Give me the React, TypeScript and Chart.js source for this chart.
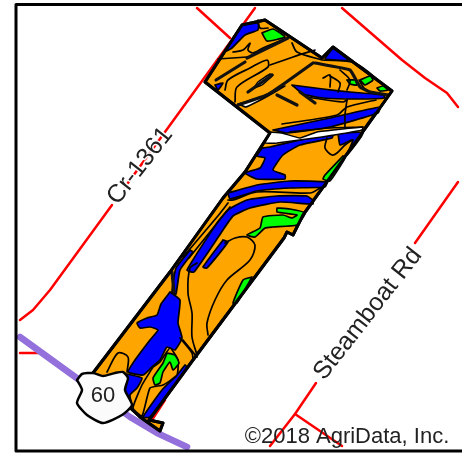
import React, { useEffect, useRef } from "react";
import { Chart, registerables } from "chart.js";

Chart.register(...registerables);

type Pt = [number, number];

const frame: Pt[] = [[470, 4.5], [16, 4.5], [16, 451], [470, 451]];

const roadsRed: Pt[][] = [
  [[255, 8], [125, 187]],
  [[112, 205], [50, 290], [33, 310], [20, 320]],
  [[197, 8], [230, 38]],
  [[342, 8], [402, 60], [425, 78], [447, 93], [458, 107]],
  [[458, 182], [415, 243]],
  [[316, 383], [295, 414], [270, 446]],
  [[295, 414], [342, 446]],
  [[20, 353], [38, 353]],
  [[165, 400], [150, 423]],
];
const highway: Pt[] = [[20, 337], [78, 379], [130, 417], [157, 433], [187, 447]];

const fieldOutline: Pt[] = [
  [265, 20], [322, 58], [333, 47], [392, 91], [362, 133], [303, 215], [293, 235], [287, 232], [284, 238],
  [193, 360], [149, 420], [163, 423], [160, 431], [140, 417], [93, 373], [170, 272], [223, 198], [245, 172],
  [270, 133], [205, 82], [242, 25], [265, 20],
];

const whitePatches: Pt[][] = [
  [[271, 132], [282, 133], [300, 138], [317, 132], [363, 127], [362, 130], [322, 137], [277, 143], [265, 143], [271, 132]],
  [[238, 104], [246, 107], [268, 96], [285, 86], [278, 88], [262, 97], [238, 104]],
  [[254, 88], [262, 85], [273, 75], [270, 74], [258, 82], [254, 88]],
  [[359, 80], [365, 90], [372, 93], [364, 88], [359, 80]],
];

const bluePatches: Pt[][] = [
  [[242, 25], [258, 23], [258, 30], [245, 35], [232, 48], [226, 51], [242, 25]],
  [[215, 85], [223, 83], [218, 90], [215, 85]],
  [[333, 48], [348, 60], [325, 59], [333, 48]],
  [[292, 85], [323, 89], [350, 92], [383, 95], [385, 98], [357, 99], [323, 98], [303, 94], [292, 85]],
  [[273, 130], [330, 118], [380, 107], [378, 113], [330, 127], [287, 133], [273, 130]],
  [[262, 148], [270, 147], [300, 140], [333, 134], [332, 138], [300, 145], [283, 155], [273, 170], [285, 175], [285, 179], [257, 179], [245, 173], [260, 168], [265, 158], [257, 156], [262, 148]],
  [[338, 133], [363, 133], [347, 155], [353, 140], [347, 142], [340, 145], [338, 133]],
  [[228, 193], [257, 185], [290, 181], [327, 182], [325, 187], [290, 188], [257, 191], [230, 199], [228, 193]],
  [[313, 200], [307, 196], [277, 196], [247, 200], [228, 210], [217, 223], [187, 270], [194, 272], [221, 233], [233, 216], [250, 208], [280, 202], [313, 204], [313, 200]],
  [[223, 240], [228, 242], [207, 268], [203, 267], [223, 240]],
  [[190, 250], [176, 268], [172, 292], [176, 294], [180, 270], [193, 252], [190, 250]],
  [[170, 292], [180, 300], [178, 323], [182, 338], [175, 350], [167, 347], [160, 360], [152, 367], [143, 375], [128, 372], [135, 360], [150, 340], [158, 330], [150, 327], [140, 328], [137, 323], [147, 318], [157, 315], [161, 304], [170, 292]],
  [[127, 374], [142, 378], [137, 388], [130, 395], [132, 407], [125, 395], [127, 374]],
  [[185, 365], [177, 375], [162, 390], [143, 417], [150, 417], [187, 367], [185, 365]],
];

const orangeOverBlue: Pt[][] = [
  [[153, 367], [160, 362], [170, 348], [178, 360], [177, 375], [163, 385], [150, 388], [142, 416], [133, 408], [142, 385], [153, 367]],
];

const greenPatches: Pt[][] = [
  [[262, 33], [273, 29], [285, 37], [267, 41], [262, 33]],
  [[347, 80], [355, 80], [357, 85], [350, 84], [347, 80]],
  [[360, 80], [370, 76], [373, 80], [365, 85], [360, 80]],
  [[377, 88], [383, 86], [388, 90], [380, 91], [377, 88]],
  [[343, 156], [325, 175], [323, 179], [330, 181], [345, 158], [343, 156]],
  [[277, 208], [290, 209], [305, 213], [297, 225], [273, 227], [265, 228], [255, 237], [247, 235], [260, 228], [263, 217], [283, 215], [292, 218], [297, 215], [277, 212], [277, 208]],
  [[252, 277], [243, 280], [233, 303], [237, 303], [252, 277]],
  [[167, 353], [175, 355], [179, 363], [173, 370], [170, 362], [163, 372], [160, 383], [155, 385], [153, 378], [163, 363], [167, 353]],
];

const soilLines: Pt[][] = [
  [[218, 59], [247, 57]],
  [[233, 52], [243, 50], [250, 43], [248, 50], [253, 53], [263, 48], [282, 40]],
  [[225, 90], [228, 80], [250, 68], [267, 60], [268, 67], [237, 87], [235, 102]],
  [[270, 65], [293, 57], [315, 50]],
  [[292, 43], [297, 52], [322, 60]],
  [[258, 20], [260, 28], [268, 28]],
  [[323, 78], [330, 75], [330, 87]],
  [[330, 76], [340, 83], [338, 92]],
  [[340, 70], [350, 80], [347, 90]],
  [[323, 60], [355, 63], [384, 85]],
  [[347, 100], [345, 115], [345, 128]],
  [[307, 97], [343, 102], [347, 100]],
  [[282, 124], [337, 115], [347, 107], [376, 100]],
  [[290, 132], [330, 128], [363, 127]],
  [[375, 113], [365, 127]],
  [[327, 138], [325, 148], [332, 155], [337, 153], [345, 145], [352, 140]],
  [[228, 200], [233, 200], [257, 192], [310, 193], [320, 188]],
  [[183, 257], [217, 217], [228, 203]],
  [[189, 258], [218, 222], [230, 207]],
  [[225, 243], [235, 238], [247, 237], [255, 245], [250, 260], [227, 280], [215, 300], [207, 323], [208, 335]],
  [[197, 263], [190, 268], [188, 293], [192, 313], [192, 337], [197, 355]],
  [[180, 338], [192, 353], [193, 360]],
  [[183, 340], [197, 357]],
  [[107, 372], [118, 353], [128, 357], [127, 372]],
  [[155, 292], [165, 278]],
];

const heavyLines: Pt[][] = [
  [[216, 80], [245, 62]],
  [[247, 58], [288, 38]],
  [[248, 92], [272, 75]],
  [[238, 105], [267, 95], [285, 83], [313, 63]],
  [[277, 95], [297, 105]],
  [[300, 92], [315, 103]],
  [[315, 63], [350, 70], [360, 87], [370, 92], [388, 95]],
  [[172, 272], [174, 292]],
];

const shield: Pt[] = [
  [77, 380], [82, 374], [93, 373], [103, 376], [115, 373], [123, 372], [128, 378], [125, 390], [132, 405],
  [122, 415], [103, 423], [87, 415], [77, 403], [82, 390], [77, 380],
];

const labelTexts = ["Cr-1361", "Steamboat Rd", "©2018 AgriData, Inc.", "60"];
const labelAnchors: Pt[] = [[140, 166], [368, 314], [347, 437], [103, 396]];
const labelAngles = [-52, -52, 0, 0];
const labelSizes = [25, 25, 22, 22];

function line(points: Pt[], borderColor: string, borderWidth: number, tension: number, fillColor?: string) {
  return {
    type: "scatter" as const,
    showLine: true,
    data: points.map(([x, y]) => ({ x, y })),
    borderColor,
    borderWidth,
    tension,
    fillColor,
    pointRadius: 0,
    pointHoverRadius: 0,
    borderCapStyle: "round" as const,
    borderJoinStyle: "round" as const,
  };
}

const polygonFill = {
  id: "polygonFill",
  beforeDatasetDraw(chart: any, args: any) {
    const ds = chart.data.datasets[args.index];
    if (!ds.fillColor) return;
    const ctx = chart.ctx;
    const el = args.meta.dataset;
    ctx.save();
    ctx.beginPath();
    el.path(ctx);
    ctx.closePath();
    ctx.fillStyle = ds.fillColor;
    ctx.fill();
    ctx.restore();
  },
};

const mapLabels = {
  id: "mapLabels",
  afterDraw(chart: any) {
    const { ctx, scales } = chart;
    labelTexts.forEach((t, i) => {
      ctx.save();
      ctx.translate(scales.x.getPixelForValue(labelAnchors[i][0]), scales.y.getPixelForValue(labelAnchors[i][1]));
      ctx.rotate((labelAngles[i] * Math.PI) / 180);
      ctx.font = `${labelSizes[i]}px "Liberation Sans"`;
      ctx.textAlign = "center";
      ctx.textBaseline = "middle";
      ctx.lineJoin = "round";
      if (i < 2) {
        ctx.strokeStyle = "#ffffff";
        ctx.lineWidth = 3;
        ctx.strokeText(t, 0, 0);
      }
      ctx.fillStyle = "#222222";
      ctx.fillText(t, 0, 0);
      ctx.restore();
    });
  },
};

export default function App() {
  const ref = useRef<HTMLCanvasElement>(null);
  useEffect(() => {
    // listed bottom layer first; Chart.js paints the first dataset last, so the list is reversed below
    const layers: any[] = [
      ...roadsRed.map((p) => line(p, "#ff0000", 2.5, 0)),
      line(highway, "#9370db", 6.5, 0),
      line(fieldOutline, "#000000", 3, 0, "#ffa500"),
      ...bluePatches.map((p) => line(p, "#000000", 1.7, 0.15, "#0000ff")),
      ...orangeOverBlue.map((p) => line(p, "#000000", 1.7, 0.15, "#ffa500")),
      ...greenPatches.map((p) => line(p, "#000000", 1.7, 0.15, "#00ff00")),
      ...whitePatches.map((p) => line(p, "#000000", 1.5, 0.1, "#ffffff")),
      ...soilLines.map((p) => line(p, "#000000", 1.7, 0.3)),
      ...heavyLines.map((p) => line(p, "#111111", 3.2, 0.1)),
      line(fieldOutline, "#000000", 3, 0),
      line(frame, "#000000", 3, 0),
      line(shield, "#000000", 2.5, 0.2, "#fbfbfb"),
    ];
    const chart = new Chart(ref.current!, {
      type: "scatter",
      data: { datasets: layers.reverse() },
      plugins: [polygonFill, mapLabels],
      options: {
        animation: false,
        responsive: false,
        devicePixelRatio: 1,
        layout: { padding: 0 },
        plugins: { legend: { display: false }, tooltip: { enabled: false } },
        scales: {
          x: { type: "linear", min: 0, max: 462, display: false },
          y: { type: "linear", min: 0, max: 454, reverse: true, display: false },
        },
      },
    } as any);
    return () => chart.destroy();
  }, []);
  return (
    <canvas
      ref={ref}
      width={462}
      height={454}
      style={{ position: "fixed", left: 0, top: 0, width: 462, height: 454, filter: "blur(0.4px)" }}
    />
  );
}
